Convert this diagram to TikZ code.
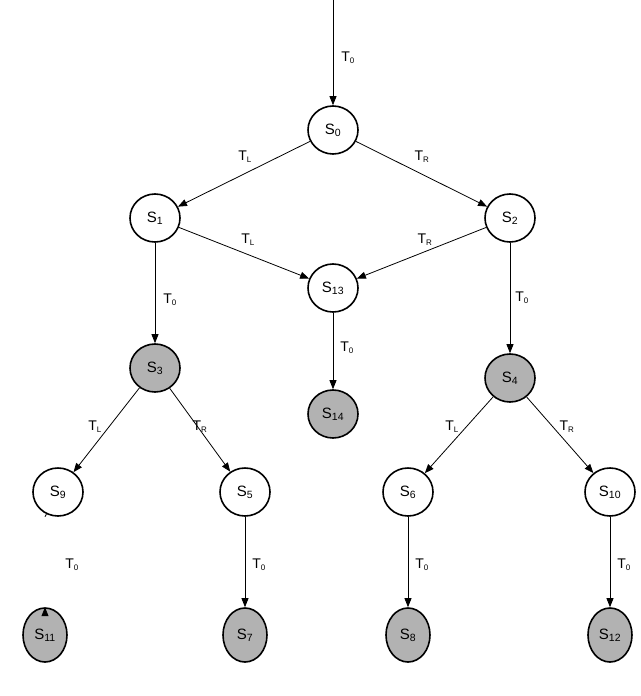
\documentclass[tikz,border=0pt]{standalone}
\usepackage{fontspec}
\setmainfont{Liberation Sans}
\usetikzlibrary{arrows.meta,shapes.geometric}
\begin{document}
\begin{tikzpicture}[x=1pt,y=-1pt,
  st/.style={ellipse,draw,line width=1.6pt,fill=white,minimum width=50pt,minimum height=48pt,inner sep=0pt,font=\fontsize{15}{15}\selectfont},
  gst/.style={st,fill=black!30},
  bst/.style={gst,minimum width=44pt,minimum height=54pt},
  ed/.style={-{Triangle[length=9pt,width=7pt]},line width=0.8pt},
  lb/.style={font=\fontsize{14}{14}\selectfont,inner sep=0pt}]
\useasboundingbox (0,0) rectangle (640,696);
\newcommand{\lab}[2]{T\textsubscript{\fontsize{8}{8}\selectfont #2}}
\coordinate (top) at (333,0);
\node[st] (s0) at (333,130) {S\textsubscript{0}};
\node[st] (s1) at (155,218) {S\textsubscript{1}};
\node[st] (s2) at (510,218) {S\textsubscript{2}};
\node[st] (s13) at (333,288) {S\textsubscript{13}};
\node[gst] (s3) at (155,368) {S\textsubscript{3}};
\node[gst] (s14) at (333,414) {S\textsubscript{14}};
\node[gst] (s4) at (510,378) {S\textsubscript{4}};
\node[st] (s9) at (58,492) {S\textsubscript{9}};
\node[st] (s5) at (245,492) {S\textsubscript{5}};
\node[st] (s6) at (408,492) {S\textsubscript{6}};
\node[st] (s10) at (610,492) {S\textsubscript{10}};
\node[bst] (s11) at (45,635) {S\textsubscript{11}};
\node[bst] (s7) at (245,635) {S\textsubscript{7}};
\node[bst] (s8) at (408,635) {S\textsubscript{8}};
\node[bst] (s12) at (610,635) {S\textsubscript{12}};
\draw[ed] (top) -- (s0);
\draw[ed] (s0) -- (s1);
\draw[ed] (s0) -- (s2);
\draw[ed] (s1) -- (s13);
\draw[ed] (s2) -- (s13);
\draw[ed] (s1) -- (s3);
\draw[ed] (s13) -- (s14);
\draw[ed] (s2) -- (s4);
\draw[ed] (s3) -- (s9);
\draw[ed] (s3) -- (s5);
\draw[ed] (s4) -- (s6);
\draw[ed] (s4) -- (s10);
\draw[ed] (s9) -- (s11 |- s9.south) (s11.north) ++(0,0);
\draw[ed] (s5) -- (s7);
\draw[ed] (s6) -- (s8);
\draw[ed] (s10) -- (s12);
\node[lb] (l1) at (348,58) {\lab{}{0}};
\node[lb] (l2) at (245,157) {\lab{}{L}};
\node[lb] (l3) at (422,157) {\lab{}{R}};
\node[lb] (l4) at (248,240) {\lab{}{L}};
\node[lb] (l5) at (425,240) {\lab{}{R}};
\node[lb] (l6) at (170,300) {\lab{}{0}};
\node[lb] (l7) at (347,348) {\lab{}{0}};
\node[lb] (l8) at (522,298) {\lab{}{0}};
\node[lb] (l9) at (95,427) {\lab{}{L}};
\node[lb] (l10) at (200,427) {\lab{}{R}};
\node[lb] (l11) at (452,427) {\lab{}{L}};
\node[lb] (l12) at (567,427) {\lab{}{R}};
\node[lb] (l13) at (72,565) {\lab{}{0}};
\node[lb] (l14) at (259,565) {\lab{}{0}};
\node[lb] (l15) at (422,565) {\lab{}{0}};
\node[lb] (l16) at (624,565) {\lab{}{0}};
\end{tikzpicture}
\end{document}
